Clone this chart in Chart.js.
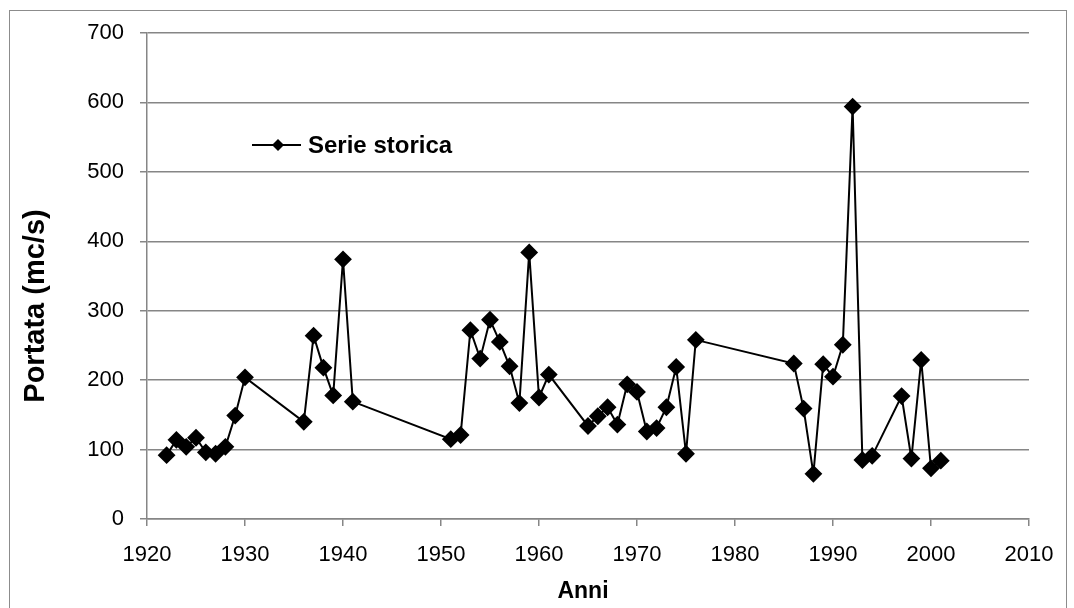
<!DOCTYPE html>
<html>
<head>
<meta charset="utf-8">
<script src="https://cdn.jsdelivr.net/npm/chart.js@4/dist/chart.umd.min.js"></script>
<style>
  html, body { margin: 0; padding: 0; background: #fff; }
  #wrap { width: 1074px; height: 608px; }
</style>
</head>
<body>
<div id="wrap"><canvas id="chart" width="1074" height="608"></canvas></div>
<script>
// Serie storica delle portate massime annue
const years = [1922, 1923, 1924, 1925, 1926, 1927, 1928, 1929, 1930,
    1936, 1937, 1938, 1939, 1940, 1941,
    1951, 1952, 1953, 1954, 1955, 1956, 1957, 1958, 1959, 1960, 1961,
    1965, 1966, 1967, 1968, 1969, 1970, 1971, 1972, 1973, 1974, 1975, 1976,
    1986, 1987, 1988, 1989, 1990, 1991, 1992, 1993, 1994,
    1997, 1998, 1999, 2000, 2001];
const portata = [92, 114, 104, 117, 96, 94, 104, 149, 204,
    140, 264, 218, 178, 374, 169,
    115, 121, 272, 231, 287, 255, 220, 167, 384, 175, 208,
    134, 148, 161, 136, 194, 183, 126, 131, 161, 219, 94, 258,
    224, 159, 65, 223, 205, 251, 594, 85, 91,
    177, 87, 229, 73, 84];
const seriesName = "Serie storica";
const xTitle = "Anni";
const yTitle = "Portata (mc/s)";

const fontFamily = "'Liberation Sans', Arial, sans-serif";
const gridColor = "#868686";

// bordo esterno, titoli degli assi e legenda (linea + rombo)
const decorations = {
    id: "decorations",
    beforeDraw(chart) {
        const ctx = chart.ctx;
        ctx.save();
        ctx.strokeStyle = "#8c8c8c";
        ctx.lineWidth = 1;
        ctx.strokeRect(9.5, 10.5, 1057, 640);
        ctx.restore();
    },
    afterDraw(chart) {
        const ctx = chart.ctx;
        ctx.save();
        ctx.fillStyle = "#000";
        ctx.textBaseline = "middle";
        ctx.textAlign = "center";
        ctx.font = "bold 23px " + fontFamily;
        ctx.fillText(xTitle, 583, 592);

        ctx.translate(36, 306);
        ctx.rotate(-Math.PI / 2);
        ctx.font = "bold 29px " + fontFamily;
        ctx.fillText(yTitle, 0, 0);
        ctx.restore();

        // legenda
        ctx.save();
        ctx.strokeStyle = "#000";
        ctx.lineWidth = 2;
        ctx.beginPath();
        ctx.moveTo(252, 145);
        ctx.lineTo(301, 145);
        ctx.stroke();
        ctx.fillStyle = "#000";
        ctx.beginPath();
        ctx.moveTo(278, 139);
        ctx.lineTo(284, 145);
        ctx.lineTo(278, 151);
        ctx.lineTo(272, 145);
        ctx.closePath();
        ctx.fill();
        ctx.font = "bold 24px " + fontFamily;
        ctx.textAlign = "left";
        ctx.textBaseline = "middle";
        ctx.fillText(seriesName, 308, 146);
        ctx.restore();
    }
};

let ctx = document.getElementById("chart").getContext("2d");

new Chart(ctx, {
    type: "scatter",
    data: {
        datasets: [{
            label: seriesName,
            data: years.map((y, i) => ({ x: y, y: portata[i] })),
            showLine: true,
            borderColor: "#000",
            backgroundColor: "#000",
            borderWidth: 2,
            pointStyle: "rectRot",
            pointRadius: 7.5,
            pointHoverRadius: 7.5,
            tension: 0
        }]
    },
    options: {
        responsive: false,
        animation: false,
        layout: {
            padding: { left: 0, top: 33, right: 45, bottom: 0 }
        },
        plugins: {
            legend: { display: false },
            tooltip: { enabled: false }
        },
        scales: {
            x: {
                type: "linear",
                min: 1920,
                max: 2010,
                afterFit: function (scale) { scale.height = 89; },
                ticks: {
                    stepSize: 10,
                    padding: 16,
                    color: "#000",
                    font: { family: fontFamily, size: 22 },
                    callback: v => String(v)
                },
                grid: {
                    drawOnChartArea: false,
                    drawTicks: true,
                    tickLength: 7,
                    color: gridColor,
                    lineWidth: 1.5
                },
                border: { color: gridColor, width: 1.5 }
            },
            y: {
                min: 0,
                max: 700,
                afterFit: function (scale) { scale.width = 147; },
                ticks: {
                    stepSize: 100,
                    padding: 16,
                    color: "#000",
                    font: { family: fontFamily, size: 22 }
                },
                grid: {
                    drawTicks: true,
                    tickLength: 7,
                    color: gridColor,
                    lineWidth: 1.5
                },
                border: { color: gridColor, width: 1.5 }
            }
        }
    },
    plugins: [decorations]
});
</script>
</body>
</html>
